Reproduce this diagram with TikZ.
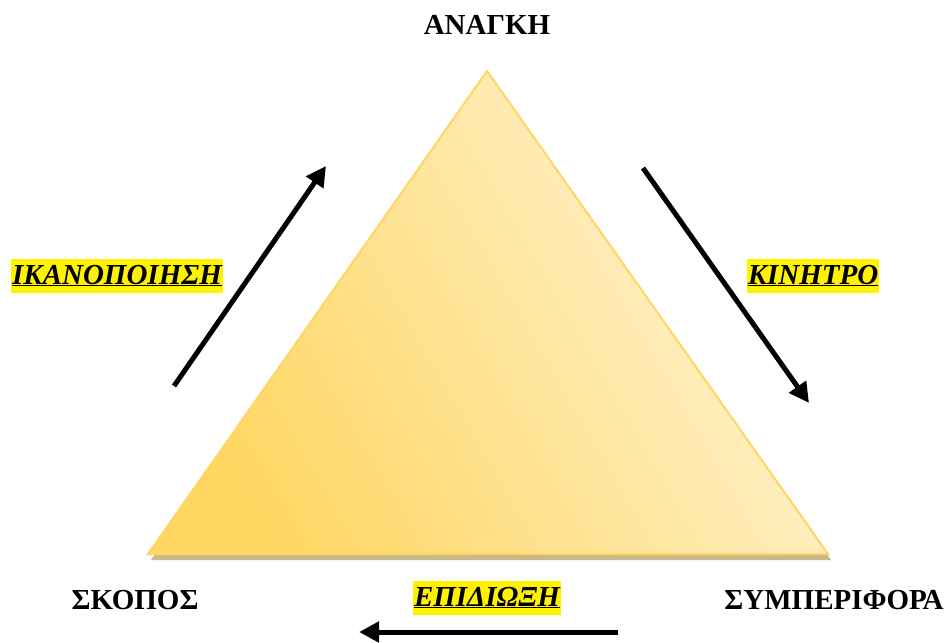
\documentclass[tikz,border=0pt]{standalone}
\usepackage{fontspec}
\setmainfont{Liberation Serif}
\usetikzlibrary{arrows.meta}

\definecolor{tridark}{RGB}{255,214,98}
\definecolor{trilight}{RGB}{255,244,212}
\definecolor{triborder}{RGB}{255,214,100}
\definecolor{shadowtan}{RGB}{200,184,138}

\begin{document}
\begin{tikzpicture}[x=1pt, y=-1pt,
    every node/.style={font=\fontsize{29}{33}\selectfont\bfseries},
    marker/.style={fill=yellow, font=\fontsize{29}{33}\selectfont\bfseries\itshape,
        inner xsep=1pt, inner ysep=1pt, text height=24pt, text depth=8pt},
    flow/.style={line width=5pt, -{Triangle[length=20pt, width=20pt]}}]
    \useasboundingbox (0,0) rectangle (949,642);

    % triangle corners
    \coordinate (apex) at (487,71);
    \coordinate (bottomLeft) at (148,554);
    \coordinate (bottomRight) at (828,554);

    % shadow under the triangle
    \fill[shadowtan] (490,77) -- (151,560) -- (831,560) -- cycle;
    \shade[draw=triborder, line width=2pt, top color=trilight, bottom color=tridark,
        shading angle=-60] (apex) -- (bottomLeft) -- (bottomRight) -- cycle;

    % corner labels
    \node (need) at (487,25) {ΑΝΑΓΚΗ};
    \node (goal) at (135,600) {ΣΚΟΠΟΣ};
    \node (behaviour) at (834,600) {ΣΥΜΠΕΡΙΦΟΡΑ};

    % side labels
    \node[marker] (satisfaction) at (117,276) {\underline{ΙΚΑΝΟΠΟΙΗΣΗ}};
    \node[marker] (motive) at (813,276) {\underline{ΚΙΝΗΤΡΟ}};
    \node[marker] (pursuit) at (487,598) {\underline{ΕΠΙΔΙΩΞΗ}};

    % arrows
    \coordinate (satisfactionTail) at (174,386);
    \coordinate (satisfactionTip) at (326,166);
    \coordinate (motiveTail) at (643,168);
    \coordinate (motiveTip) at (809,403);
    \coordinate (pursuitTail) at (618,632);
    \coordinate (pursuitTip) at (359,632);
    \draw[flow] (satisfactionTail) -- (satisfactionTip);
    \draw[flow] (motiveTail) -- (motiveTip);
    \draw[flow] (pursuitTail) -- (pursuitTip);
\end{tikzpicture}
\end{document}
